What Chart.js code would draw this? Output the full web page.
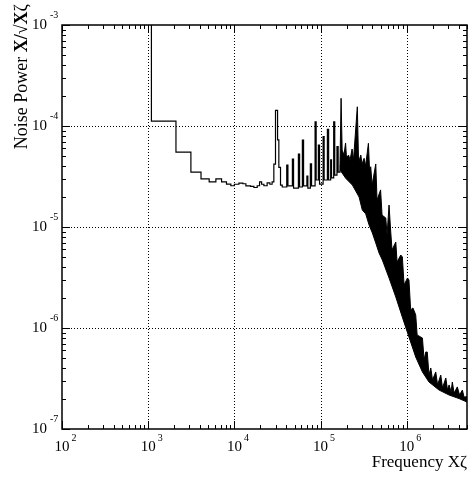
<!DOCTYPE html>
<html>
<head>
<meta charset="utf-8">
<script src="https://cdn.jsdelivr.net/npm/chart.js@4.4.0/dist/chart.umd.min.js"></script>
<style>
  body { margin: 0; background: #fff; }
  canvas { display: block; }
</style>
</head>
<body>
<canvas id="noiseChart" width="472" height="480"></canvas>
<script>
// Low / mid frequency part: histogram bins (left edge in Hz, power)
const lineFreq = [100, 1.09e3, 2.1e3, 3.13e3, 4.1e3, 5.1e3, 6.1e3, 7.1e3, 8.1e3, 9.1e3,
  1.0e4, 1.128e4, 1.255e4, 1.36e4, 1.54e4, 1.684e4, 1.84e4, 1.96e4, 2.07e4, 2.2e4,
  2.4e4, 2.58e4, 2.74e4, 2.87e4, 3.0e4, 3.17e4, 3.28e4, 3.43e4, 3.59e4, 4.05e4,
  4.18e4, 4.71e4, 4.86e4, 5.53e4, 5.71e4, 6.15e4, 6.35e4, 6.94e4, 7.12e4, 7.61e4,
  7.86e4, 8.64e4, 8.89e4, 9.43e4, 9.73e4, 1.07e5, 1.10e5, 1.20e5, 1.24e5, 1.31e5,
  1.34e5, 1.42e5, 1.46e5, 1.55e5, 1.60e5, 1.68e5];
const linePower = [1e-2, 1.12e-4, 5.5e-5, 3.5e-5, 3.0e-5, 2.8e-5, 3.0e-5, 2.8e-5, 2.66e-5, 2.56e-5,
  2.65e-5, 2.72e-5, 2.68e-5, 2.55e-5, 2.52e-5, 2.46e-5, 2.56e-5, 2.8e-5, 2.65e-5, 2.56e-5,
  2.73e-5, 2.65e-5, 2.8e-5, 4.2e-5, 1.43e-4, 7.3e-5, 3.9e-5, 2.6e-5, 2.49e-5, 4.1e-5,
  2.55e-5, 4.71e-5, 2.43e-5, 5.28e-5, 2.49e-5, 7.27e-5, 2.55e-5, 3.2e-5, 2.43e-5, 4.21e-5,
  2.55e-5, 1.10e-4, 2.92e-5, 6.48e-5, 2.66e-5, 7.87e-5, 2.92e-5, 9.27e-5, 2.92e-5, 4.61e-5,
  3.06e-5, 1.10e-4, 3.27e-5, 6.24e-5, 3.5e-5, 4.11e-5];

// High frequency part: dense band, read as upper (with spikes) and lower envelope
const bandUpperFreq = [1.68e5, 1.73e5, 1.78e5, 1.87e5, 1.95e5, 2.00e5, 2.11e5, 2.20e5, 2.32e5, 2.41e5,
  2.67e5, 2.76e5, 2.93e5, 3.03e5, 3.20e5, 3.33e5, 3.59e5, 3.70e5, 3.82e5, 3.96e5,
  4.37e5, 4.52e5, 4.97e5, 5.17e5, 5.71e5, 5.91e5, 6.23e5, 6.52e5, 6.75e5, 7.46e5,
  7.72e5, 8.52e5, 8.89e5, 9.31e5, 1.02e6, 1.06e6, 1.11e6, 1.18e6, 1.27e6, 1.32e6,
  1.45e6, 1.52e6, 1.59e6, 1.66e6, 1.73e6, 1.81e6, 1.90e6, 1.99e6, 2.17e6, 2.28e6,
  2.48e6, 2.60e6, 2.84e6, 2.97e6, 3.10e6, 3.27e6, 3.38e6, 3.54e6, 3.86e6, 4.10e6,
  4.42e6, 4.62e6, 5.0e6];
const bandUpperPower = [4.11e-5, 1.88e-4, 5.78e-5, 5.16e-5, 6.79e-5, 4.82e-5, 5.16e-5, 4.61e-5, 5.92e-5, 4.61e-5,
  1.55e-4, 4.40e-5, 5.16e-5, 4.21e-5, 4.79e-5, 4.02e-5, 6.74e-5, 3.67e-5, 3.95e-5, 2.60e-5,
  4.21e-5, 1.85e-5, 2.33e-5, 1.31e-5, 1.23e-5, 8.33e-6, 1.65e-5, 8.92e-6, 5.92e-6, 7.10e-6,
  4.50e-6, 5.28e-6, 5.05e-6, 2.67e-6, 3.13e-6, 2.99e-6, 1.51e-6, 1.58e-6, 1.35e-6, 8.52e-7,
  8.15e-7, 7.96e-7, 4.82e-7, 5.78e-7, 5.78e-7, 3.42e-7, 4.02e-7, 3.06e-7, 3.67e-7, 2.73e-7,
  3.42e-7, 2.55e-7, 3.20e-7, 2.43e-7, 2.73e-7, 2.33e-7, 2.92e-7, 2.27e-7, 2.61e-7, 2.17e-7,
  2.43e-7, 2.07e-7, 2.09e-7];
const bandLowerFreq = [1.68e5, 1.96e5, 2.34e5, 2.80e5, 3.05e5, 3.34e5, 3.65e5, 3.99e5, 4.37e5, 4.77e5,
  5.21e5, 6.23e5, 7.46e5, 8.89e5, 1.06e6, 1.27e6, 1.52e6, 1.81e6, 2.37e6, 3.10e6,
  4.05e6, 5.0e6];
const bandLowerPower = [3.67e-5, 3.03e-5, 2.60e-5, 1.98e-5, 1.47e-5, 1.35e-5, 1.05e-5, 8.72e-6, 6.94e-6, 5.53e-6,
  4.71e-6, 3.13e-6, 2.03e-6, 1.28e-6, 8.15e-7, 5.16e-7, 3.67e-7, 2.92e-7, 2.43e-7, 2.17e-7,
  2.0e-7, 1.85e-7];

// axis decades (tick labels)
const xDecades = [1e2, 1e3, 1e4, 1e5, 1e6];
const yDecades = [1e-7, 1e-6, 1e-5, 1e-4, 1e-3];

const toPoints = (xs, ys) => xs.map((x, i) => ({ x: x, y: ys[i] }));
const serif = '"Liberation Serif", "Times New Roman", serif';

// ROOT-like frame: dotted grid, inward ticks on all sides, 10^n labels, titles
const rootAxes = {
  id: 'rootAxes',
  beforeDatasetsDraw(chart) {
    const { ctx, chartArea: a, scales: { x, y } } = chart;
    ctx.save();
    ctx.strokeStyle = '#000';
    ctx.lineWidth = 1;
    ctx.setLineDash([1, 2]);
    xDecades.forEach(v => {
      if (v <= x.min || v >= x.max) return;
      const px = Math.round(x.getPixelForValue(v)) + 0.5;
      ctx.beginPath(); ctx.moveTo(px, a.bottom); ctx.lineTo(px, a.top); ctx.stroke();
    });
    yDecades.forEach(v => {
      if (v <= y.min || v >= y.max) return;
      const py = Math.round(y.getPixelForValue(v)) + 0.5;
      ctx.beginPath(); ctx.moveTo(a.left, py); ctx.lineTo(a.right, py); ctx.stroke();
    });
    ctx.restore();
  },
  afterDatasetsDraw(chart) {
    const { ctx, chartArea: a, scales: { x, y } } = chart;
    ctx.save();
    ctx.strokeStyle = '#000';
    ctx.lineWidth = 1;

    // ticks
    for (let e = 2; e <= 6; e++) {
      for (let k = 1; k <= 9; k++) {
        const v = k * Math.pow(10, e);
        if (v < x.min || v > x.max) continue;
        const px = Math.round(x.getPixelForValue(v)) + 0.5;
        const len = k === 1 ? 8 : 4;
        ctx.beginPath();
        ctx.moveTo(px, a.bottom); ctx.lineTo(px, a.bottom - len);
        ctx.moveTo(px, a.top); ctx.lineTo(px, a.top + len);
        ctx.stroke();
      }
    }
    for (let e = -7; e <= -3; e++) {
      for (let k = 1; k <= 9; k++) {
        const v = k * Math.pow(10, e);
        if (v < y.min * 0.999 || v > y.max * 1.001) continue;
        const py = Math.round(y.getPixelForValue(v)) + 0.5;
        const len = k === 1 ? 8 : 4;
        ctx.beginPath();
        ctx.moveTo(a.left, py); ctx.lineTo(a.left + len, py);
        ctx.moveTo(a.right, py); ctx.lineTo(a.right - len, py);
        ctx.stroke();
      }
    }

    // frame
    ctx.lineWidth = 1.5;
    ctx.strokeRect(a.left, a.top, a.right - a.left, a.bottom - a.top);

    // tick labels
    ctx.fillStyle = '#000';
    ctx.textBaseline = 'middle';
    yDecades.forEach(v => {
      const py = y.getPixelForValue(v);
      ctx.font = '15px ' + serif;
      ctx.textAlign = 'right';
      ctx.fillText('10', a.left - 15, py + 0.5);
      ctx.font = '10px ' + serif;
      ctx.textAlign = 'left';
      ctx.fillText(String(Math.round(Math.log10(v))), a.left - 12, py - 10);
    });
    xDecades.forEach(v => {
      const px = x.getPixelForValue(v);
      ctx.font = '15px ' + serif;
      ctx.textAlign = 'center';
      ctx.fillText('10', px, a.bottom + 18.5);
      ctx.font = '10px ' + serif;
      ctx.textAlign = 'left';
      ctx.fillText(String(Math.round(Math.log10(v))), px + 9.5, a.bottom + 9.5);
    });

    // x title
    ctx.textBaseline = 'alphabetic';
    ctx.textAlign = 'right';
    ctx.font = '17px ' + serif;
    ctx.fillText('Frequency X\u03b6', a.right, a.bottom + 38);

    // y title, mixed fonts, rotated, right aligned to the top
    const parts = [
      ['Noise Power ', '18px ' + serif],
      ['X/\u221aX', 'bold 18px ' + serif],
      ['\u03b6', '18px ' + serif]
    ];
    let total = 0;
    parts.forEach(p => { ctx.font = p[1]; total += ctx.measureText(p[0]).width; });
    ctx.translate(27, 4);
    ctx.rotate(-Math.PI / 2);
    ctx.textAlign = 'left';
    let pos = -total;
    parts.forEach(p => {
      ctx.font = p[1];
      ctx.fillText(p[0], pos, 0);
      pos += ctx.measureText(p[0]).width;
    });
    ctx.restore();
  }
};

const ctx = document.getElementById('noiseChart').getContext('2d');
const noiseChart = new Chart(ctx, {
  type: 'line',
  data: {
    datasets: [
      {
        data: toPoints(lineFreq, linePower),
        stepped: true,
        borderColor: '#000',
        borderWidth: 1.2,
        pointRadius: 0,
        fill: false
      },
      {
        data: toPoints(bandLowerFreq, bandLowerPower),
        borderColor: '#000',
        borderWidth: 1,
        pointRadius: 0,
        fill: false
      },
      {
        data: toPoints(bandUpperFreq, bandUpperPower),
        borderColor: '#000',
        borderWidth: 1,
        backgroundColor: '#000',
        pointRadius: 0,
        fill: '-1'
      }
    ]
  },
  options: {
    responsive: false,
    animation: false,
    devicePixelRatio: 1,
    layout: { padding: { left: 62, right: 5, top: 25, bottom: 51 } },
    plugins: { legend: { display: false }, tooltip: { enabled: false } },
    scales: {
      x: { type: 'logarithmic', min: 100, max: 5e6, display: false },
      y: { type: 'logarithmic', min: 1e-7, max: 1e-3, display: false }
    }
  },
  plugins: [rootAxes]
});
</script>
</body>
</html>
